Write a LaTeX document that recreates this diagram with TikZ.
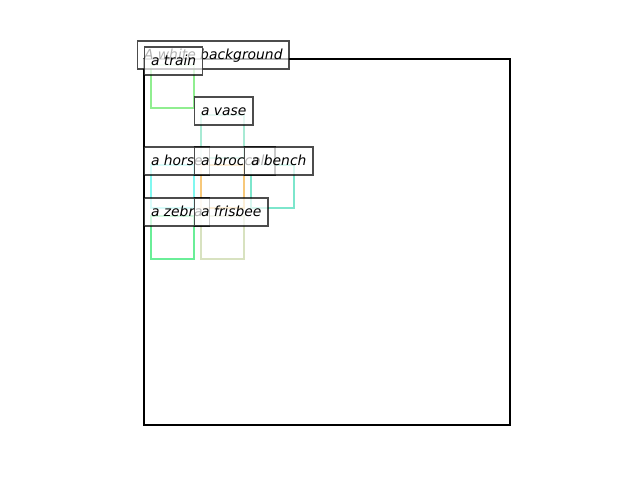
\documentclass[tikz,border=0pt]{standalone}
\usepackage{fontspec}
\setmainfont{DejaVu Sans}
\definecolor{ctrain}{HTML}{90EE90}
\definecolor{cvase}{HTML}{A8EAD4}
\definecolor{chorse}{HTML}{80F8F0}
\definecolor{cbroc}{HTML}{F7C87A}
\definecolor{cbench}{HTML}{7DE6CC}
\definecolor{czebra}{HTML}{6AEE98}
\definecolor{cfris}{HTML}{D8E2C0}
\begin{document}
\begin{tikzpicture}[x=0.75pt, y=-0.75pt,
  detbox/.style={line width=1.8pt},
  framebox/.style={line width=1.6pt, black},
  lab/.style={draw=black, draw opacity=0.7, fill=white, fill opacity=0.7, text opacity=1,
    line width=1pt, inner xsep=4.9pt, inner ysep=4.9pt, outer sep=0pt,
    text height=8.6pt, text depth=2.6pt, anchor=base west,
    font=\fontsize{10.4}{12}\selectfont\itshape}]
\useasboundingbox (0,0) rectangle (640,480);
% box corners
\coordinate (bg) at (144,59);
\coordinate (bgse) at (510,425);
\coordinate (tr) at (151,65);
\coordinate (va) at (201,115);
\coordinate (ho) at (151,165);
\coordinate (br) at (201,165);
\coordinate (be) at (251,165);
\coordinate (ze) at (151,216);
\coordinate (fr) at (201,216);
% detection boxes
\draw[framebox] (bg) rectangle (bgse);
\draw[detbox, ctrain] (tr) rectangle ++(43,43);
\draw[detbox, cvase] (va) rectangle ++(43,43);
\draw[detbox, chorse] (ho) rectangle ++(43,43);
\draw[detbox, cbroc] (br) rectangle ++(43,43);
\draw[detbox, cbench] (be) rectangle ++(43,43);
\draw[detbox, czebra] (ze) rectangle ++(43,43);
\draw[detbox, cfris] (fr) rectangle ++(43,43);
% labels
\node[lab] (lbg) at ([xshift=-4.9pt]bg) {A white background};
\node[lab] (ltr) at ([xshift=-4.9pt]tr) {a train};
\node[lab] (lva) at ([xshift=-4.9pt]va) {a vase};
\node[lab] (lho) at ([xshift=-4.9pt]ho) {a horse};
\node[lab] (lbr) at ([xshift=-4.9pt]br) {a broccoli};
\node[lab] (lbe) at ([xshift=-4.9pt]be) {a bench};
\node[lab] (lze) at ([xshift=-4.9pt]ze) {a zebra};
\node[lab] (lfr) at ([xshift=-4.9pt]fr) {a frisbee};
\end{tikzpicture}
\end{document}
